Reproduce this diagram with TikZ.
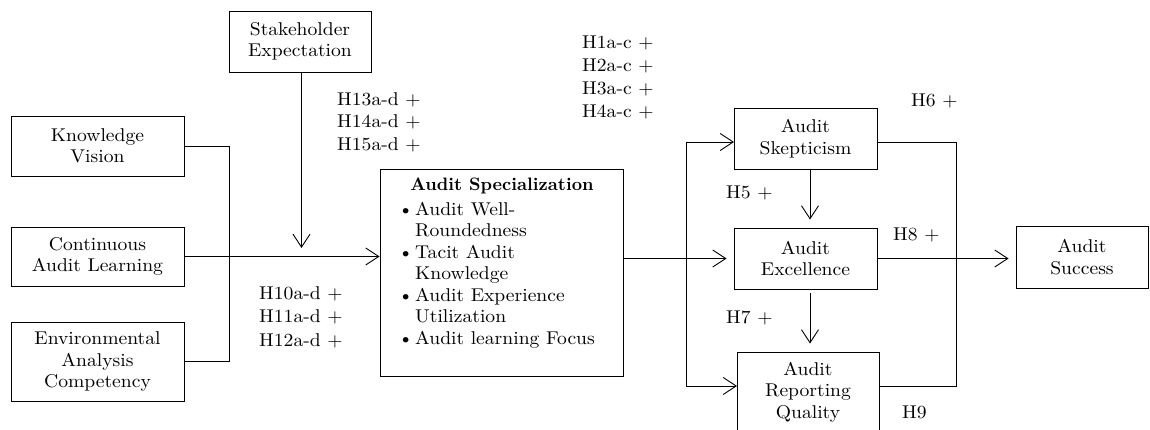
\documentclass[tikz,border=0pt]{standalone}
\usepackage{fontspec}
\setmainfont{lmroman10-regular.otf}[BoldFont=lmroman10-bold.otf, FakeStretch=1.06, BoldFeatures={FakeStretch=1.0}]
\usetikzlibrary{arrows.meta,calc}
\begin{document}
\begin{tikzpicture}[x=1pt,y=-1pt,
  font=\fontsize{18.5}{21.5}\selectfont,
  box/.style={draw, line width=0.9pt, inner sep=0pt, align=center},
  link/.style={line width=0.9pt},
  arr/.style={link, -{Straight Barb[length=13pt,width=17pt]}},
  hyp/.style={anchor=west, inner sep=0pt, align=left}]
\useasboundingbox (0,0) rectangle (1150,430);
\clip (0,0) rectangle (1150,430);

% antecedents
\node[box, minimum width=142pt, minimum height=61pt] (se) at (300,41.5) {Stakeholder\\Expectation};
\node[box, minimum width=173pt, minimum height=60pt] (kv) at (97.5,146) {Knowledge\\Vision};
\node[box, minimum width=173pt, minimum height=59pt] (cal) at (97.5,256.5) {Continuous\\Audit Learning};
\node[box, minimum width=173pt, minimum height=79pt] (eac) at (97.5,361.5) {Environmental\\Analysis\\Competency};

% central construct
\node[box, minimum width=243pt, minimum height=207pt] (as) at (501.5,272.5) {};
\node[inner sep=0pt, font=\fontsize{18}{21.5}\selectfont\bfseries] (astitle) at (502,186) {Audit Specialization};
\node[anchor=north west, inner sep=0pt] (aslist) at (398,200) {%
  \begin{tabular}{@{}p{17pt}@{}l@{}}
  \textbullet & Audit Well-\\
              & Roundedness\\
  \textbullet & Tacit Audit\\
              & Knowledge\\
  \textbullet & Audit Experience\\
              & Utilization\\
  \textbullet & Audit learning Focus
  \end{tabular}};

% outcomes
\node[box, minimum width=143pt, minimum height=61pt] (sk) at (805.5,138.5) {Audit\\Skepticism};
\node[box, minimum width=143pt, minimum height=61pt] (ex) at (805.5,258.5) {Audit\\Excellence};
\node[box, minimum width=142pt, minimum height=80pt] (rq) at (808,392) {Audit\\Reporting\\Quality};
\node[box, minimum width=132pt, minimum height=62pt] (su) at (1082,257) {Audit\\Success};

% connectors on the left
\draw[link] (kv.east) -- ++(45,0) |- (eac.east);
\draw[arr] (cal.east) -- (cal.east -| as.west);
\coordinate (setip) at (301.5,248);
\draw[arr] (se.south -| setip) -- (setip);

% fork from the central construct
\coordinate (forktop) at (686,142);
\coordinate (forkbot) at (686,386);
\coordinate (skin) at (734,142);
\coordinate (rqin) at (737,386);
\draw[arr, shorten >=7pt] (as.east |- ex.west) -- (ex.west);
\draw[arr] (forktop) -- (skin);
\draw[arr] (forktop) -- (forkbot) -- (rqin);

% links between outcomes
\draw[arr, shorten >=8pt] ($(sk.south)+(4.5,0)$) -- ($(ex.north)+(4.5,0)$);
\draw[arr, shorten <=4pt, shorten >=8pt] ($(ex.south)+(4.5,0)$) -- ($(rq.north)+(2,0)$);
\coordinate (skout) at (877,142);
\coordinate (rqout) at (879,386);
\draw[link] (skout) -- (956,142) -- (956,386) -- (rqout);
\draw[arr, shorten >=7pt] (ex.east) -- (ex.east -| su.west);

% hypothesis labels
\node[hyp, font=\fontsize{18.5}{22.5}\selectfont] (h13) at (337,122) {H13a-d +\\H14a-d +\\H15a-d +};
\node[hyp, font=\fontsize{18.5}{23.5}\selectfont] (h10) at (259,317) {H10a-d +\\H11a-d +\\H12a-d +};
\node[hyp, font=\fontsize{18.5}{23}\selectfont] (h1) at (582,77.5) {H1a-c +\\H2a-c +\\H3a-c +\\H4a-c +};
\node[hyp] (h5) at (726,193) {H5 +};
\node[hyp] (h7) at (726,318) {H7 +};
\node[hyp] (h6) at (911,101) {H6 +};
\node[hyp] (h8) at (893,235) {H8 +};
\node[hyp] (h9) at (902,412) {H9};
\end{tikzpicture}
\end{document}
